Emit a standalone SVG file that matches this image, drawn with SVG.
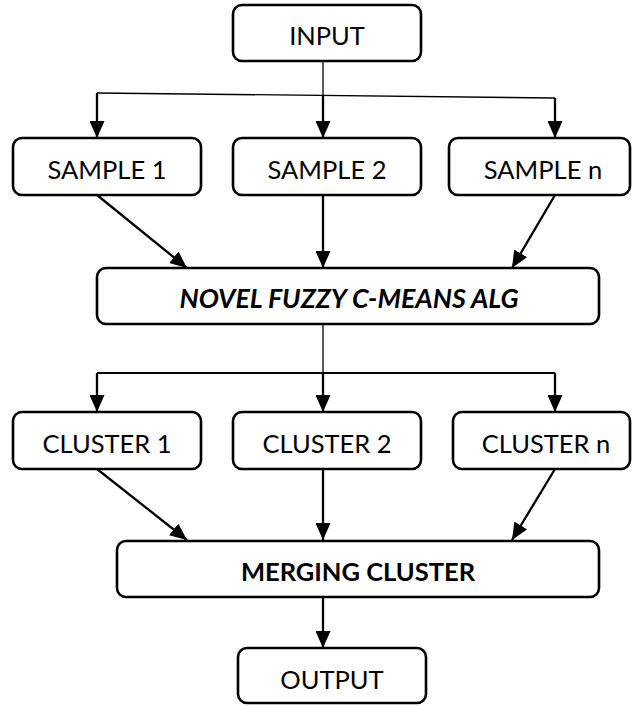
<svg xmlns="http://www.w3.org/2000/svg" width="632" height="706" viewBox="0 0 632 706">
  <style>
    .box { fill: #ffffff; stroke: #000000; stroke-width: 2.6; }
    .lbl { font-family: Lato, "Liberation Sans", sans-serif; font-size: 25.5px; fill: #000000; text-anchor: middle; }
    .bi { font-weight: bold; font-style: italic; font-size: 26.8px; }
    .b { font-weight: bold; }
    .arrow { fill: none; stroke: #000000; stroke-width: 2.3; marker-end: url(#head); }
    .thin { fill: none; stroke: #000000; stroke-width: 1.3; }
    .bus { fill: none; stroke: #000000; stroke-width: 2.2; }
  </style>
  <defs>
    <marker id="head" markerUnits="userSpaceOnUse" markerWidth="17" markerHeight="15" refX="17" refY="7.5" orient="auto">
      <path d="M0,0 L17,7.5 L0,15 Z" fill="#000000"/>
    </marker>
  </defs>
  <rect width="632" height="706" fill="#ffffff"/>

  <g id="connectors">
    <!-- input fan-out -->
    <line class="thin" x1="323" y1="61" x2="323" y2="96"/>
    <line class="thin" x1="97" y1="93" x2="555" y2="98"/>
    <line class="arrow" x1="97" y1="93" x2="97" y2="138"/>
    <line class="arrow" x1="323" y1="96" x2="323" y2="138"/>
    <line class="arrow" x1="555" y1="98" x2="555" y2="138"/>
    <!-- samples into algorithm -->
    <line class="arrow" x1="97" y1="195" x2="187" y2="268"/>
    <line class="arrow" x1="323" y1="195" x2="323" y2="268"/>
    <line class="arrow" x1="555" y1="195" x2="512" y2="268"/>
    <!-- algorithm fan-out -->
    <line class="thin" x1="323" y1="324" x2="323" y2="373"/>
    <line class="bus" x1="97" y1="373" x2="555" y2="373"/>
    <line class="arrow" x1="97" y1="373" x2="97" y2="412"/>
    <line class="arrow" x1="323" y1="373" x2="323" y2="412"/>
    <line class="arrow" x1="555" y1="373" x2="555" y2="412"/>
    <!-- clusters into merge -->
    <line class="arrow" x1="97" y1="469" x2="187" y2="540"/>
    <line class="arrow" x1="323" y1="469" x2="323" y2="540"/>
    <line class="arrow" x1="555" y1="469" x2="512" y2="540"/>
    <!-- merge to output -->
    <line class="arrow" x1="323" y1="597" x2="323" y2="648"/>
  </g>

  <g id="input">
    <rect class="box" x="233" y="5" width="188" height="56" rx="9"/>
    <text class="lbl" x="327" y="45">INPUT</text>
  </g>
  <g id="sample1">
    <rect class="box" x="13" y="138" width="188" height="57" rx="9"/>
    <text class="lbl" x="107" y="179">SAMPLE 1</text>
  </g>
  <g id="sample2">
    <rect class="box" x="233" y="138" width="188" height="57" rx="9"/>
    <text class="lbl" x="327" y="179">SAMPLE 2</text>
  </g>
  <g id="samplen">
    <rect class="box" x="449" y="138" width="181" height="57" rx="9"/>
    <text class="lbl" x="543" y="179">SAMPLE n</text>
  </g>
  <g id="algorithm">
    <rect class="box" x="97" y="268" width="502" height="56" rx="9"/>
    <text class="lbl bi" x="349" y="308">NOVEL FUZZY C-MEANS ALG</text>
  </g>
  <g id="cluster1">
    <rect class="box" x="13" y="412" width="188" height="57" rx="9"/>
    <text class="lbl" x="107" y="453">CLUSTER 1</text>
  </g>
  <g id="cluster2">
    <rect class="box" x="233" y="412" width="188" height="57" rx="9"/>
    <text class="lbl" x="327" y="453">CLUSTER 2</text>
  </g>
  <g id="clustern">
    <rect class="box" x="453" y="412" width="177" height="57" rx="9"/>
    <text class="lbl" x="546" y="453">CLUSTER n</text>
  </g>
  <g id="merging">
    <rect class="box" x="117" y="541" width="482" height="56" rx="9"/>
    <text class="lbl b" x="358" y="581">MERGING CLUSTER</text>
  </g>
  <g id="output">
    <rect class="box" x="238" y="648" width="188" height="55" rx="9"/>
    <text class="lbl" x="332" y="689">OUTPUT</text>
  </g>
</svg>
